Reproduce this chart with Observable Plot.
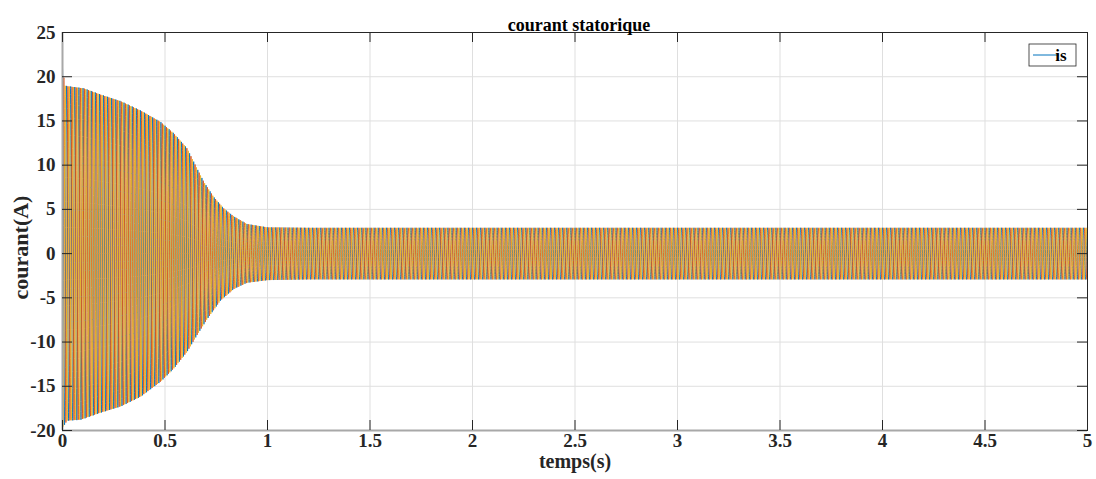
<!DOCTYPE html>
<html><head><meta charset="utf-8">
<script src="https://cdn.jsdelivr.net/npm/d3@7"></script>
<script src="https://cdn.jsdelivr.net/npm/@observablehq/plot@0.6"></script>
<style>body{margin:0;background:#fff}</style>
</head><body><div id="chart"></div>
<script>
const title = "courant statorique";
const xLabel = "temps(s)";
const yLabel = "courant(A)";
const legendLabel = "is";
const xDomain = [0, 5];
const yDomain = [-20, 25];
const xTicks = [0, 0.5, 1, 1.5, 2, 2.5, 3, 3.5, 4, 4.5, 5];
const yTicks = [-20, -15, -10, -5, 0, 5, 10, 15, 20, 25];
const phases = ["ia", "ib", "ic"];
const phaseColors = ["#0072BD", "#D95319", "#EDB120"];
const phaseShiftDeg = [0, -120, 120];
const freqHz = 50;
// envelope of positive peaks (time s, amplitude A)
const envTimeUpper = [0, 0.012, 0.023, 0.104, 0.185, 0.283, 0.38, 0.478, 0.543, 0.608, 0.657, 0.69, 0.738, 0.787, 0.836, 0.9, 1.0, 1.2, 5.0];
const envUpper     = [21, 19.0, 18.95, 18.7, 18.0, 17.25, 16.2, 14.9, 13.6, 11.9, 9.6, 8.1, 6.4, 5.1, 4.2, 3.35, 2.97, 2.92, 2.92];
// envelope of negative peaks (magnitude)
const envTimeLower = [0, 0.023, 0.088, 0.185, 0.283, 0.38, 0.478, 0.543, 0.608, 0.657, 0.706, 0.771, 0.836, 0.9, 1.0, 1.2, 5.0];
const envLower     = [19.7, 18.9, 18.8, 18.0, 17.3, 16.2, 14.5, 13.0, 11.1, 9.2, 7.4, 5.3, 4.0, 3.3, 3.0, 2.92, 2.92];

const up = d3.scaleLinear().domain(envTimeUpper).range(envUpper).clamp(true);
const lo = d3.scaleLinear().domain(envTimeLower).range(envLower).clamp(true);
const samples = [];
const dt = 1 / (freqHz * 40);
phases.forEach((p, k) => {
  for (let n = 0; n * dt <= 5 + 1e-9; n++) {
    const t = n * dt;
    const s = Math.cos(2 * Math.PI * freqHz * t + phaseShiftDeg[k] * Math.PI / 180);
    samples.push({t, i: s >= 0 ? s * up(t) : s * lo(t), phase: p});
  }
});

const W = 1096, H = 479, mL = 62, mR = 9, mT = 32, mB = 49;
const frameW = W - mL - mR, frameH = H - mT - mB, tickLen = 10;
const serif = "'Liberation Serif', 'Times New Roman', serif";
const fmt = d => String(d);
const chart = Plot.plot({
  width: W, height: H,
  marginLeft: mL, marginRight: mR, marginTop: mT, marginBottom: mB,
  style: {fontFamily: serif, fontSize: "19px", fontWeight: "bold", color: "#262626", background: "#fff"},
  x: {domain: xDomain, label: null},
  y: {domain: yDomain, label: null},
  color: {domain: phases, range: phaseColors},
  marks: [
    Plot.gridX(xTicks, {stroke: "#dfdfdf", strokeOpacity: 1}),
    Plot.gridY(yTicks, {stroke: "#dfdfdf", strokeOpacity: 1}),
    Plot.line(samples, {x: "t", y: "i", z: "phase", stroke: "phase", strokeWidth: 0.9}),
    Plot.frame({stroke: "#262626", strokeWidth: 1}),
    Plot.ruleY([yDomain[0]], {stroke: "#a8a8a8", strokeWidth: 2}),
    Plot.ruleX([xDomain[0]], {stroke: "#a8a8a8", strokeWidth: 2}),
    Plot.tickX(xTicks, {x: d => d, insetTop: frameH - tickLen, stroke: "#262626"}),
    Plot.tickX(xTicks, {x: d => d, insetBottom: frameH - tickLen, stroke: "#262626"}),
    Plot.tickY(yTicks, {y: d => d, insetRight: frameW - tickLen, stroke: "#262626"}),
    Plot.tickY(yTicks, {y: d => d, insetLeft: frameW - tickLen, stroke: "#262626"}),
    Plot.axisX(xTicks, {anchor: "bottom", tickSize: 0, tickPadding: 3, tickFormat: fmt, label: null, fill: "#262626"}),
    Plot.axisY(yTicks, {anchor: "left", tickSize: 0, tickPadding: 7, tickFormat: fmt, label: null, fill: "#262626"}),
    Plot.text([title], {frameAnchor: "top", dx: 4, dy: -14, fontSize: 18, fontWeight: "bold", fill: "#000"}),
    Plot.text([xLabel], {frameAnchor: "bottom", dy: 37, fontSize: 20, fontWeight: "bold", fill: "#262626"}),
    Plot.text([yLabel], {frameAnchor: "left", textAnchor: "middle", dx: -42, dy: 16, rotate: -90, fontSize: 22, fontWeight: "bold", fill: "#262626"})
  ]
});
document.getElementById("chart").appendChild(chart);

// legend box
const svg = d3.select(chart);
const lg = svg.append("g").attr("transform", "translate(1029,44)");
lg.append("rect").attr("width", 47).attr("height", 22).attr("fill", "#fff").attr("stroke", "#262626").attr("stroke-width", 0.8);
lg.append("line").attr("x1", 4).attr("x2", 30).attr("y1", 11).attr("y2", 11).attr("stroke", phaseColors[0]).attr("stroke-width", 1);
lg.append("text").attr("x", 32).attr("y", 11).attr("dy", "0.35em").attr("font-family", serif).attr("font-size", 17).attr("font-weight", "bold").attr("fill", "#000").text(legendLabel);
</script>
</body></html>
